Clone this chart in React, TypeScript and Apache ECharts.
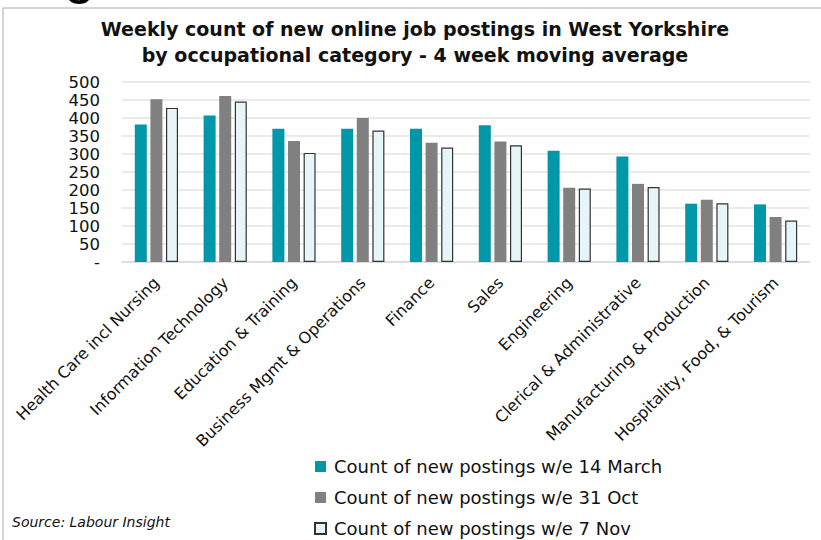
import React, { useEffect, useRef } from "react";
import * as echarts from "echarts";

const categories = [
  "Health Care incl Nursing",
  "Information Technology",
  "Education & Training",
  "Business Mgmt & Operations",
  "Finance",
  "Sales",
  "Engineering",
  "Clerical & Administrative",
  "Manufacturing & Production",
  "Hospitality, Food, & Tourism",
];
const seriesNames = [
  "Count of new postings w/e 14 March",
  "Count of new postings w/e 31 Oct",
  "Count of new postings w/e 7 Nov",
];
const march14 = [382, 407, 370, 370, 370, 380, 309, 293, 162, 160];
const oct31 = [452, 461, 336, 400, 331, 335, 206, 217, 173, 125];
const nov7 = [428, 446, 303, 365, 318, 324, 204, 208, 163, 115];
const yTicks = [0, 50, 100, 150, 200, 250, 300, 350, 400, 450, 500];

const FONT = "'DejaVu Sans', Verdana, sans-serif";

export default function App() {
  const ref = useRef<HTMLDivElement>(null);
  useEffect(() => {
    document.body.style.margin = "0";
    if (!ref.current) return;
    const chart = echarts.init(ref.current, null, { renderer: "svg" });
    const mk = (name: string, data: number[], color: string, border?: string) => ({
      name,
      type: "bar",
      data,
      barWidth: 12,
      barGap: "30%",
      itemStyle: border
        ? { color, borderColor: border, borderWidth: 1.2 }
        : { color },
    });
    chart.setOption({
      animation: false,
      backgroundColor: "#fff",
      textStyle: { fontFamily: FONT },
      title: {
        text: "Weekly count of new online job postings in West Yorkshire\nby occupational category - 4 week moving average",
        left: 415,
        top: 16,
        textAlign: "center",
        padding: 0,
        textStyle: {
          fontFamily: FONT,
          fontSize: 19,
          fontWeight: "bold",
          color: "#111",
          lineHeight: 26,
        },
      },
      grid: { left: 122, right: 11, top: 82, bottom: 278, containLabel: false },
      xAxis: {
        type: "category",
        data: categories,
        axisLine: { lineStyle: { color: "#d9d9d9", width: 1.5 } },
        axisTick: { show: false },
        axisLabel: {
          interval: 0,
          rotate: 45,
          fontSize: 16,
          color: "#111",
          fontFamily: FONT,
          margin: 18,
        },
      },
      yAxis: {
        type: "value",
        min: yTicks[0],
        max: yTicks[yTicks.length - 1],
        interval: 50,
        axisLine: { show: false },
        axisTick: { show: false },
        splitLine: { lineStyle: { color: "#e3e3e3", width: 1.5 } },
        axisLabel: {
          fontSize: 16.5,
          lineHeight: 16,
          color: "#111",
          fontFamily: FONT,
          margin: 22,
          formatter: (v: number) => (v === 0 ? "-" : String(v)),
        },
      },
      legend: {
        orient: "vertical",
        left: 314,
        top: 456,
        padding: 0,
        itemWidth: 11,
        itemHeight: 11,
        itemGap: 10,
        icon: "rect",
        textStyle: {
          fontSize: 18,
          lineHeight: 21,
          color: "#111",
          fontFamily: FONT,
          padding: [0, 0, 0, 3],
        },
        data: seriesNames,
      },
      graphic: [
        {
          type: "line",
          shape: { x1: 3, y1: 8, x2: 821, y2: 8 },
          style: { stroke: "#aaa", lineWidth: 1 },
        },
        {
          type: "line",
          shape: { x1: 3, y1: 8, x2: 3, y2: 540 },
          style: { stroke: "#aaa", lineWidth: 1 },
        },
        {
          type: "text",
          left: 12,
          top: 515,
          style: {
            text: "Source: Labour Insight",
            fontSize: 14,
            fontStyle: "italic",
            fontFamily: FONT,
            fill: "#111",
          },
        },
        {
          type: "text",
          x: 64,
          y: -56,
          style: {
            text: "g",
            fontSize: 56,
            fontFamily: "'Liberation Sans', Arial, sans-serif",
            fill: "#000",
          },
        },
      ],
      series: [
        mk(seriesNames[0], march14, "#0097a9"),
        mk(seriesNames[1], oct31, "#808080"),
        mk(seriesNames[2], nov7, "#e6f5f8", "#333"),
      ],
    });
    return () => chart.dispose();
  }, []);
  return <div ref={ref} style={{ width: 821, height: 540 }} />;
}
